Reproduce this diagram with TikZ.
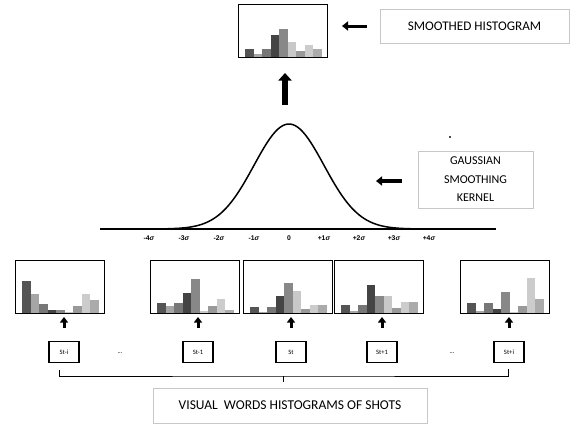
\documentclass[tikz,border=0pt]{standalone}
\usepackage{fontspec}
\setmainfont{Carlito}
\newfontfamily\axfont{Liberation Sans}
\usetikzlibrary{arrows.meta,calc,shadows}
\definecolor{hc1}{HTML}{555555}
\definecolor{hc2}{HTML}{A6A6A6}
\definecolor{hc3}{HTML}{777777}
\definecolor{hc4}{HTML}{444444}
\definecolor{hc5}{HTML}{888888}
\definecolor{hc6}{HTML}{C8C8C8}
\definecolor{hc7}{HTML}{999999}
\definecolor{hc8}{HTML}{CCCCCC}
\definecolor{hc9}{HTML}{ABABAB}
\newcommand\drawbars[2]{%
  \foreach \hh [count=\ii] in {#2} {
    \fill[color=hc\ii] ([xshift={7+(\ii-1)*8.5}]#1.south west) rectangle ++(8.5,-\hh);
  }
  \draw[line width=1pt] (#1.south west) -- (#1.south east);
}
\begin{document}
\begin{tikzpicture}[x=1pt,y=-1pt,
  histbox/.style={draw, line width=0.9pt, minimum width=89pt, minimum height=53pt, inner sep=0pt, outer sep=0pt, anchor=north west},
  shotbox/.style={draw, line width=1.5pt, minimum width=30pt, minimum height=21pt, inner sep=0pt, fill=white, font=\fontsize{6.6}{8}\selectfont},
  labelbox/.style={draw=black!22, line width=0.8pt, fill=white, inner sep=0pt, align=center,
     drop shadow={shadow xshift=1.2pt, shadow yshift=-1.2pt, fill=black!18, opacity=1}},
  smallarrow/.style={line width=3pt, -{Triangle[width=8pt,length=5.5pt]}},
  midarrow/.style={line width=3.4pt, -{Triangle[width=9pt,length=6pt]}},
  bigarrow/.style={line width=5.5pt, -{Triangle[width=13pt,length=7.5pt]}},
  axlab/.style={font=\axfont\bfseries\fontsize{6.8}{8}\selectfont, inner sep=0pt},
]
\useasboundingbox (0,0) rectangle (584,424);

% top smoothed histogram
\node[histbox] (top) at (238,4) {};
\drawbars{top}{8.3, 2.7, 8.3, 22.3, 27.7, 15.3, 6, 11.7, 8.3}

\node[labelbox, minimum width=189pt, minimum height=34pt, font=\fontsize{13.2}{15}\selectfont] (smooth) at (474.5,26) {SMOOTHED HISTOGRAM};
\draw[midarrow, line width=3pt, shorten <=13pt, shorten >=15pt] (smooth.west) -- (top.east |- smooth.west);

% gaussian
\draw[line width=1.5pt] (100,229) -- (496,229);
\draw[line width=1.5pt, domain=-4.2:4.2, samples=120, smooth] plot ({289+35*\x}, {229-105*exp(-0.5*(\x)*(\x))});
\foreach \k/\t in {-4/-4\textit{σ}, -3/-3\textit{σ}, -2/-2\textit{σ}, -1/-1\textit{σ}, 0/0, 1/+1\textit{σ}, 2/+2\textit{σ}, 3/+3\textit{σ}, 4/+4\textit{σ}}
  \node[axlab] (ax\k) at ({289+35*\k},238) {\t};
\fill[black!70] (448.5,135.5) rectangle (450.5,137.5);

\coordinate (peak) at (285,124);
\draw[bigarrow, shorten <=19pt, shorten >=16pt] (peak) -- (peak |- top.south);

\node[labelbox, minimum width=115pt, minimum height=57pt, font=\fontsize{12}{18.5}\selectfont] (gauss) at (475.5,179.5) {GAUSSIAN\\SMOOTHING\\KERNEL};
\coordinate (gtip) at (376,181);
\draw[midarrow, shorten <=16pt] (gauss.west |- gtip) -- (gtip);

% bottom histograms
\node[histbox] (h1) at (15,260) {};
\node[histbox] (h2) at (150,260) {};
\node[histbox] (h3) at (243,260) {};
\node[histbox] (h4) at (334,260) {};
\node[histbox] (h5) at (460,260) {};
\drawbars{h1}{31.7, 19.3, 9.3, 2.7, 3.3, 1, 6.7, 19.3, 12.7}
\drawbars{h2}{10.3, 6.7, 10.3, 20.3, 33.7, 1.7, 6.7, 13.7, 3.3}
\drawbars{h3}{6, 1, 6, 17, 30.3, 21.7, 3.7, 8.3, 8.3}
\drawbars{h4}{8.3, 1.7, 8.3, 27.7, 16.7, 16.7, 5.3, 11, 11}
\drawbars{h5}{10.3, 1.7, 10.3, 3.7, 21, 1, 6.7, 35.3, 14.3}

% shot boxes
\node[shotbox] (s1) at (64,352) {St-i};
\node[shotbox] (s2) at (198,352) {St-1};
\node[shotbox] (s3) at (291,352) {St};
\node[shotbox] (s4) at (382,352) {St+1};
\node[shotbox] (s5) at (509,352) {St+i};
\node[font=\fontsize{6.6}{8}\selectfont, inner sep=0pt] (d1) at (120,353) {...};
\node[font=\fontsize{6.6}{8}\selectfont, inner sep=0pt] (d2) at (452,353) {...};

\foreach \n in {1,...,5}
  \draw[smallarrow, shorten <=13pt, shorten >=4pt] (s\n.north) -- (s\n.north |- h\n.south);

% bracket
\coordinate (bl) at (59,370);
\coordinate (bm) at (283,376);
\coordinate (br) at (508,369);
\draw[line width=0.9pt] (bl) |- (bm) -| (br);

\node[labelbox, minimum width=274pt, minimum height=35pt, font=\fontsize{13.5}{15}\selectfont] (vw) at (290,405.5) {VISUAL\ \ WORDS HISTOGRAMS OF SHOTS};
\draw[line width=0.9pt, shorten >=6pt] (bm) -- (bm |- vw.north);
\end{tikzpicture}
\end{document}
